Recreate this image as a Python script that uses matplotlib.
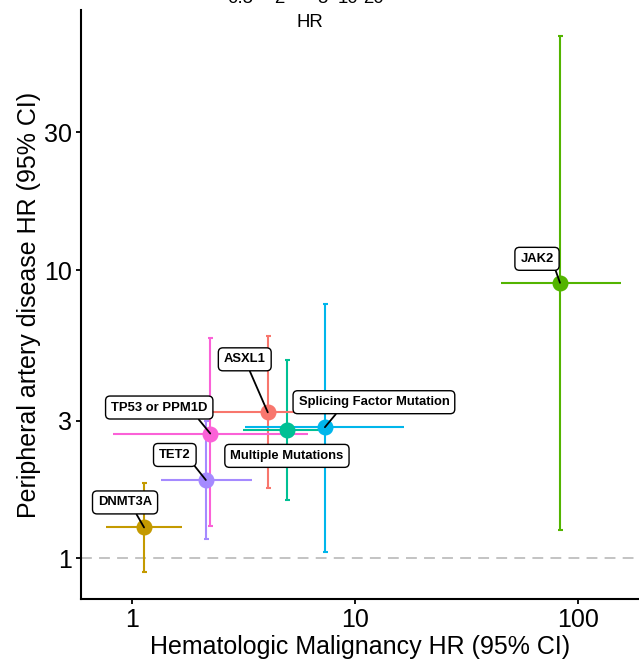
import matplotlib
matplotlib.use("Agg")
import matplotlib.pyplot as plt

plt.rcParams['font.family'] = ['Liberation Sans', 'DejaVu Sans']

# clonal hematopoiesis groups (ggplot default hue order)
genes = ["ASXL1", "DNMT3A", "JAK2", "Multiple Mutations",
         "Splicing Factor Mutation", "TET2", "TP53 or PPM1D"]
colors = ["#F8766D", "#C49A00", "#53B400", "#00C094",
          "#00B6EB", "#A58AFF", "#FB61D7"]

# Hematologic malignancy HR and 95% CI
heme_hr = [4.06, 1.13, 83.3, 4.95, 7.33, 2.14, 2.24]
heme_lo = [2.10, 0.76, 45.2, 3.13, 3.22, 1.35, 0.82]
heme_hi = [7.80, 1.68, 156.5, 7.80, 16.6, 3.44, 6.13]

# Peripheral artery disease HR and 95% CI
pad_hr = [3.21, 1.28, 9.03, 2.79, 2.85, 1.87, 2.71]
pad_lo = [1.75, 0.90, 1.25, 1.59, 1.05, 1.17, 1.29]
pad_hi = [5.90, 1.82, 64.8, 4.87, 7.62, 3.00, 5.80]

# label placement (pixels from the point) and where the connector leaves the box
label_off = [(-23, 53), (-19, 25), (-23, 24), (0, -26), (49, 25), (-31, 25), (-51, 26)]
label_rel = [(0.56, 0), (0.65, 0), (1, 0), None, (0.28, 0), (1, 0), (0.86, 0)]

fig = plt.figure(figsize=(6.39, 6.62), dpi=100)
ax = fig.add_axes([80.7 / 639, 1 - 599.3 / 662, (639 - 80.7) / 639, (599.3 - 10) / 662])

ax.axhline(1, color="#BEBEBE", lw=1.3, dashes=(6, 4), zorder=0)

for i, g in enumerate(genes):
    ax.errorbar(heme_hr[i], pad_hr[i],
                yerr=[[pad_hr[i] - pad_lo[i]], [pad_hi[i] - pad_hr[i]]],
                fmt='none', ecolor=colors[i], elinewidth=1.5, capsize=1.8, capthick=1.5, zorder=1)
for i, g in enumerate(genes):
    ax.errorbar(heme_hr[i], pad_hr[i],
                xerr=[[heme_hr[i] - heme_lo[i]], [heme_hi[i] - heme_hr[i]]],
                fmt='none', ecolor=colors[i], elinewidth=1.5, capsize=0, zorder=1)
for i, g in enumerate(genes):
    ax.plot(heme_hr[i], pad_hr[i], 'o', color=colors[i], ms=10.5, zorder=3)

for i, g in enumerate(genes):
    props = None
    if label_rel[i] is not None:
        props = dict(arrowstyle='-', color='black', lw=1.3, shrinkA=0, shrinkB=0,
                     relpos=label_rel[i])
    ax.annotate(g, xy=(heme_hr[i], pad_hr[i]), xytext=label_off[i],
                textcoords='offset pixels', ha='center', va='center',
                fontsize=9.4, fontweight='bold', zorder=5,
                bbox=dict(boxstyle='round,pad=0.42,rounding_size=0.35', fc='white',
                          ec='black', lw=1.0),
                arrowprops=props)

ax.set_xscale('log')
ax.set_yscale('log')
ax.set_xlim(0.587, 188.5)
ax.set_ylim(0.721, 79.8)
ax.set_xticks([1, 10, 100])
ax.set_xticklabels(["1", "10", "100"])
ax.set_yticks([1, 3, 10, 30])
ax.set_yticklabels(["1", "3", "10", "30"])
ax.minorticks_off()

for s in ['top', 'right']:
    ax.spines[s].set_visible(False)
for s in ['left', 'bottom']:
    ax.spines[s].set_linewidth(1.5)
ax.tick_params(width=1.3, length=3.5, labelsize=18, pad=3, color='black')

ax.set_xlabel("Hematologic Malignancy HR (95% CI)", fontsize=18, labelpad=2)
ax.set_ylabel("Peripheral artery disease HR (95% CI)", fontsize=18, labelpad=2)

# bits of the panel above that show at the top edge
top_ticks = ["0.5", "2", "5", "10", "20"]
top_x = [240, 279, 322, 348, 374]
for t, x in zip(top_ticks, top_x):
    fig.text(x / 639, 1 - 3 / 662, t, ha='center', va='baseline', fontsize=13.4)
fig.text(310 / 639, 1 - 26.7 / 662, "HR", ha='center', va='baseline', fontsize=13.4)

fig.savefig("out.png", dpi=100)
